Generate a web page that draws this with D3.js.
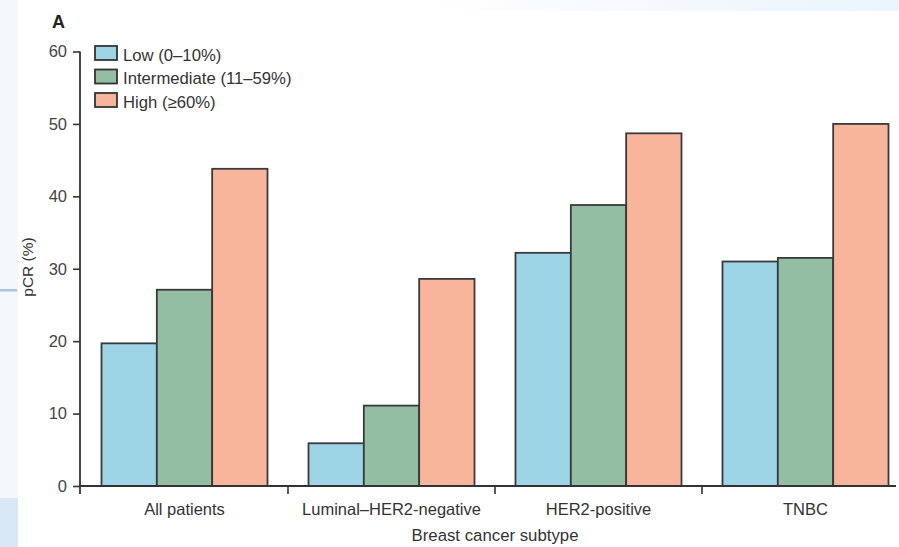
<!DOCTYPE html>
<html><head><meta charset="utf-8">
<script src="https://cdn.jsdelivr.net/npm/d3@7"></script>
<style>body{margin:0;background:#fff}svg{display:block}</style>
</head><body>
<svg id="c" width="899" height="547"></svg>
<script>
const categories = ["All patients","Luminal–HER2-negative","HER2-positive","TNBC"];
const seriesNames = ["Low (0–10%)","Intermediate (11–59%)","High (≥60%)"];
const lowValues = [19.7, 5.9, 32.2, 31.0];
const intermediateValues = [27.1, 11.1, 38.8, 31.5];
const highValues = [43.8, 28.6, 48.7, 50.0];
const yTicks = [0,10,20,30,40,50,60];
const colors = ["#9dd5e6","#93bea4","#f8b59b"];
const FONT = "'Liberation Sans', Arial, sans-serif";

const svg = d3.select("#c");
// background artifacts of the source page
svg.append("rect").attr("x",0).attr("y",0).attr("width",18).attr("height",547).attr("fill","#f4f8fd");
svg.append("rect").attr("x",0).attr("y",498).attr("width",18).attr("height",49).attr("fill","#d8e8f6");
svg.append("rect").attr("x",0).attr("y",289).attr("width",17).attr("height",2.5).attr("fill","#aac2e2");
const grad = svg.append("defs").append("linearGradient").attr("id","tg");
grad.append("stop").attr("offset","0").attr("stop-color","#ffffff");
grad.append("stop").attr("offset","0.5").attr("stop-color","#f3f9fe");
grad.append("stop").attr("offset","1").attr("stop-color","#eaf5fd");
svg.append("rect").attr("x",420).attr("y",0).attr("width",479).attr("height",11).attr("fill","url(#tg)");

const x0 = d3.scaleBand().domain(categories).range([81,909]);
const y = d3.scaleLinear().domain([0,60]).range([486,51.5]);
const x1 = d3.scaleBand().domain(seriesNames).range([20.5, x0.bandwidth()-20.5]);

const data = categories.map((c,i)=>({cat:c, vals:[lowValues[i],intermediateValues[i],highValues[i]]}));

svg.append("g").selectAll("g.grp").data(data).join("g").attr("class","grp")
 .attr("transform",d=>`translate(${x0(d.cat)},0)`)
 .selectAll("rect").data(d=>d.vals.map((v,j)=>({v,j})))
 .join("rect")
 .attr("x",d=>x1(seriesNames[d.j]))
 .attr("width",x1.bandwidth())
 .attr("y",d=>y(d.v))
 .attr("height",d=>y(0)-y(d.v))
 .attr("fill",d=>colors[d.j])
 .attr("stroke","#3a3a3a").attr("stroke-width",1.8);

// y axis
const yAxis = d3.axisLeft(y).tickValues(yTicks).tickSize(7).tickPadding(6);
const ya = svg.append("g").attr("transform","translate(80,0)").call(yAxis);
ya.select(".domain").attr("d",`M0,${y(60)}V494`).attr("stroke","#333").attr("stroke-width",1.8);
ya.selectAll(".tick line").attr("stroke","#333").attr("stroke-width",1.6);
ya.selectAll(".tick text").attr("font-family",FONT).attr("font-size",16.5).attr("fill","#444");

// x axis
const xa = svg.append("g").attr("transform","translate(0,486)");
xa.append("line").attr("x1",79).attr("x2",896).attr("y1",0).attr("y2",0).attr("stroke","#333").attr("stroke-width",1.8);
xa.selectAll("line.t").data(categories.slice(1)).join("line").attr("class","t")
  .attr("x1",d=>x0(d)).attr("x2",d=>x0(d)).attr("y1",0).attr("y2",8).attr("stroke","#333").attr("stroke-width",1.6);
xa.selectAll("text").data(categories).join("text")
  .attr("x",d=>x0(d)+x0.bandwidth()/2).attr("y",29)
  .attr("text-anchor","middle")
  .attr("font-family",FONT).attr("font-size",16.5).attr("fill","#333")
  .text(d=>d);

svg.append("text").attr("x",495).attr("y",541).attr("text-anchor","middle")
  .attr("font-family",FONT).attr("font-size",16.8).attr("fill","#333")
  .text("Breast cancer subtype");

svg.append("text").attr("transform","translate(33,267) rotate(-90)").attr("text-anchor","middle")
  .attr("font-family",FONT).attr("font-size",15.5).attr("fill","#333")
  .text("pCR (%)");

svg.append("text").attr("x",52).attr("y",28)
  .attr("font-family",FONT).attr("font-weight","bold").attr("font-size",18).attr("fill","#222")
  .text("A");

// legend
const lg = svg.append("g").attr("transform","translate(95,46)");
const li = lg.selectAll("g").data(seriesNames).join("g").attr("transform",(d,i)=>`translate(0,${i*23.5})`);
li.append("rect").attr("width",22).attr("height",14).attr("fill",(d,i)=>colors[i]).attr("stroke","#333").attr("stroke-width",1.8);
li.append("text").attr("x",28).attr("y",14.5).attr("font-family",FONT).attr("font-size",16.7).attr("fill","#333").text(d=>d);
</script>
</body></html>
